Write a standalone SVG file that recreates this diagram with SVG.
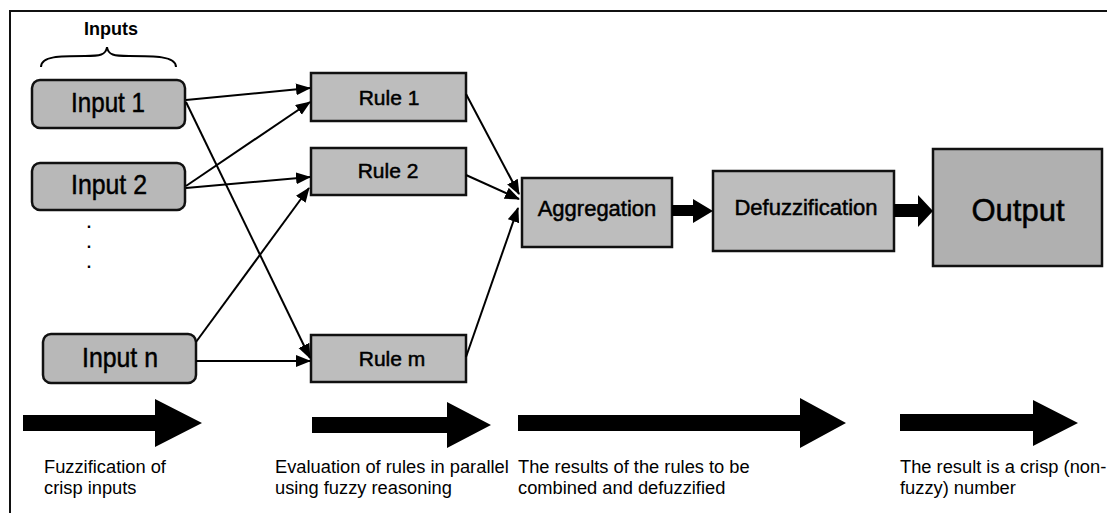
<svg xmlns="http://www.w3.org/2000/svg" width="1107" height="513" viewBox="0 0 1107 513">
  <defs>
    <marker id="tip" markerUnits="userSpaceOnUse" markerWidth="16" markerHeight="13" refX="14" refY="6" orient="auto">
      <path d="M0,0 L15,6 L0,12 z" fill="#000"/>
    </marker>
    <style>
      .frame { stroke: #111; stroke-width: 2; fill: none; }
      .input { fill: #b8b8b8; stroke: #111; stroke-width: 2.5; }
      .box { fill: #bdbdbd; stroke: #111; stroke-width: 2.5; }
      .out { fill: #b0b0b0; stroke: #111; stroke-width: 2.5; }
      .lbl { font-family: "Liberation Sans", Arial, sans-serif; fill: #000; stroke: #000; stroke-width: 0.5; text-anchor: middle; }
      .cap { font-family: "Liberation Sans", Arial, sans-serif; fill: #000; font-size: 18.3px; }
      .conn { stroke: #000; stroke-width: 2; fill: none; marker-end: url(#tip); }
      .big { fill: #000; }
    </style>
  </defs>

  <rect width="1107" height="513" fill="#fff"/>

  <!-- page frame: top and left edges -->
  <path class="frame" d="M10,513 L10,11 L1107,11"/>

  <!-- inputs heading and brace -->
  <g id="inputs-heading">
    <text x="111" y="35" font-family="Liberation Sans, Arial, sans-serif" font-size="18" font-weight="bold" text-anchor="middle">Inputs</text>
    <path d="M41,67 C41,56 60,56 85,56 C100,56 106,55 107,47 C108,55 114,56 129,56 C154,56 176,56 176,67" fill="none" stroke="#000" stroke-width="2"/>
  </g>

  <!-- input nodes -->
  <g id="input1">
    <rect class="input" x="32" y="80" width="153" height="48" rx="8"/>
    <text class="lbl" x="108" y="112" font-size="28" textLength="74" lengthAdjust="spacingAndGlyphs">Input 1</text>
  </g>
  <g id="input2">
    <rect class="input" x="32" y="163" width="153" height="47" rx="8"/>
    <text class="lbl" x="109" y="194" font-size="28" textLength="76" lengthAdjust="spacingAndGlyphs">Input 2</text>
  </g>
  <g id="ellipsis">
    <text x="89" y="228" font-family="Liberation Sans, Arial, sans-serif" font-size="16" font-weight="bold" text-anchor="middle">.</text>
    <text x="89" y="248" font-family="Liberation Sans, Arial, sans-serif" font-size="16" font-weight="bold" text-anchor="middle">.</text>
    <text x="89" y="268" font-family="Liberation Sans, Arial, sans-serif" font-size="16" font-weight="bold" text-anchor="middle">.</text>
  </g>
  <g id="inputn">
    <rect class="input" x="43" y="334" width="153" height="49" rx="8"/>
    <text class="lbl" x="120" y="367" font-size="28" textLength="76" lengthAdjust="spacingAndGlyphs">Input n</text>
  </g>

  <!-- rule nodes -->
  <g id="rule1">
    <rect class="box" x="311" y="73" width="155" height="48"/>
    <text class="lbl" x="389" y="105" font-size="21">Rule 1</text>
  </g>
  <g id="rule2">
    <rect class="box" x="311" y="148" width="155" height="47"/>
    <text class="lbl" x="388" y="178" font-size="21">Rule 2</text>
  </g>
  <g id="rulem">
    <rect class="box" x="311" y="335" width="155" height="47"/>
    <text class="lbl" x="392" y="366" font-size="21">Rule m</text>
  </g>

  <!-- aggregation, defuzzification, output -->
  <g id="aggregation">
    <rect class="box" x="522" y="178" width="150" height="69"/>
    <text class="lbl" x="597" y="216" font-size="22">Aggregation</text>
  </g>
  <g id="defuzzification">
    <rect class="box" x="713" y="171" width="181" height="80"/>
    <text class="lbl" x="806" y="215" font-size="22">Defuzzification</text>
  </g>
  <g id="output">
    <rect class="out" x="933" y="149" width="169" height="117"/>
    <text class="lbl" x="1018" y="221" font-size="31">Output</text>
  </g>

  <!-- connectors -->
  <g id="connectors">
    <line class="conn" x1="186" y1="100" x2="310" y2="88"/>
    <line class="conn" x1="186" y1="186" x2="310" y2="102"/>
    <line class="conn" x1="186" y1="188" x2="310" y2="177"/>
    <line class="conn" x1="196" y1="342" x2="309" y2="188"/>
    <line class="conn" x1="186" y1="102" x2="310" y2="358"/>
    <line class="conn" x1="196" y1="361" x2="310" y2="361"/>
    <line class="conn" x1="466" y1="94" x2="519" y2="194"/>
    <line class="conn" x1="466" y1="175" x2="519" y2="199"/>
    <line class="conn" x1="466" y1="357" x2="518" y2="208"/>
    <!-- thick block arrows between stages -->
    <polygon class="big" points="672,205 693,205 693,199 713,211 693,223 693,216 672,216"/>
    <polygon class="big" points="894,204 918,204 918,195 933,211 918,227 918,217 894,217"/>
  </g>

  <!-- stage arrows along the bottom -->
  <g id="stage-arrows">
    <polygon class="big" points="23,415 155,415 155,399 202,423 155,447 155,431 23,431"/>
    <polygon class="big" points="312,417 447,417 447,402 491,425 447,448 447,433 312,433"/>
    <polygon class="big" points="518,415 800,415 800,398 846,423 800,448 800,431 518,431"/>
    <polygon class="big" points="900,414 1033,414 1033,400 1078,423 1033,446 1033,431 900,431"/>
  </g>

  <!-- stage captions -->
  <g id="captions">
    <text class="cap" x="44" y="473">Fuzzification of</text>
    <text class="cap" x="44" y="494">crisp inputs</text>
    <text class="cap" x="275" y="473">Evaluation of rules in parallel</text>
    <text class="cap" x="275" y="494">using fuzzy reasoning</text>
    <text class="cap" x="518" y="473">The results of the rules to be</text>
    <text class="cap" x="518" y="494">combined and defuzzified</text>
    <text class="cap" x="900" y="473">The result is a crisp (non-</text>
    <text class="cap" x="900" y="494">fuzzy) number</text>
  </g>
</svg>
